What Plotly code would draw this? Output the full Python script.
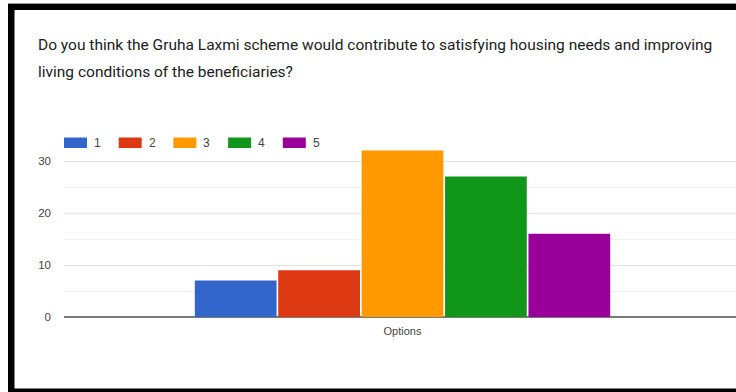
import plotly.graph_objects as go

# Survey responses on a 1-5 scale
category = ["Options"]
series_names = ["1", "2", "3", "4", "5"]
series_values = [7, 9, 32, 27, 16]
series_colors = ["#3366cc", "#dc3912", "#ff9900", "#109618", "#990099"]
question_lines = [
    "Do you think the Gruha Laxmi scheme would contribute to satisfying housing needs and improving",
    "living conditions of the beneficiaries?",
]

W, H = 736, 392
ML, MR, MT, MB = 64, 0, 135, 75
PW, PH = W - ML - MR, H - MT - MB


def px_x(x):
    return (x - ML) / PW


def px_y(y):
    return (H - MB - y) / PH


fig = go.Figure()
for name, val, col in zip(series_names, series_values, series_colors):
    fig.add_trace(go.Bar(
        x=category, y=[val], name=name,
        marker=dict(color=col, line=dict(width=0)),
        showlegend=False,
    ))

shapes = []
annotations = []

# legend keys
for i, (name, col) in enumerate(zip(series_names, series_colors)):
    x0 = 64 + i * 54.7
    shapes.append(dict(type="rect", xref="paper", yref="paper",
                       x0=px_x(x0), x1=px_x(x0 + 23), y0=px_y(148), y1=px_y(137.5),
                       fillcolor=col, line=dict(width=0)))
    annotations.append(dict(xref="paper", yref="paper", x=px_x(x0 + 28), y=px_y(143),
                            text=name, showarrow=False, xanchor="left", yanchor="middle",
                            font=dict(family="Liberation Sans, Arial", size=12, color="#444444")))

# question text, one annotation per line
for i, line in enumerate(question_lines):
    annotations.append(dict(xref="paper", yref="paper", x=px_x(36), y=px_y(45 + 27 * i),
                            text=line, showarrow=False, xanchor="left", yanchor="middle",
                            font=dict(family="Roboto", size=15.5, color="#212121")))

# card frame
frame = "#000000"
shapes += [
    dict(type="rect", xref="paper", yref="paper", x0=px_x(8), x1=px_x(14.5),
         y0=px_y(392), y1=px_y(4), fillcolor=frame, line=dict(width=0), layer="above"),
    dict(type="rect", xref="paper", yref="paper", x0=px_x(8), x1=px_x(736),
         y0=px_y(10), y1=px_y(4), fillcolor=frame, line=dict(width=0), layer="above"),
    dict(type="rect", xref="paper", yref="paper", x0=px_x(8), x1=px_x(736),
         y0=px_y(392), y1=px_y(388.5), fillcolor=frame, line=dict(width=0), layer="above"),
    dict(type="line", xref="paper", yref="paper", x0=px_x(8), x1=px_x(736),
         y0=px_y(3.5), y1=px_y(3.5), line=dict(color="#9a9a9a", width=1)),
]

fig.update_layout(
    width=W, height=H,
    margin=dict(l=ML, r=MR, t=MT, b=MB),
    paper_bgcolor="white", plot_bgcolor="white",
    barmode="group", bargap=0.384, bargroupgap=0.02,
    shapes=shapes, annotations=annotations,
    showlegend=False,
    xaxis=dict(range=[-0.5, 0.4926], showgrid=False, zeroline=False, showline=False,
               ticks="", ticklabelstandoff=6,
               tickfont=dict(family="Liberation Sans, Arial", size=11, color="#444444")),
    yaxis=dict(range=[0, 35], tickvals=[0, 10, 20, 30], showgrid=True,
               gridcolor="#e3e3e3", gridwidth=1,
               minor=dict(tickvals=[5, 15, 25, 35], showgrid=True, gridcolor="#f1f1f1", gridwidth=1),
               zeroline=True, zerolinecolor="#7a7a7a", zerolinewidth=1.5,
               ticks="", ticklabelstandoff=12,
               tickfont=dict(family="Liberation Sans, Arial", size=11.5, color="#444444")),
)

fig.write_html("out.html")
